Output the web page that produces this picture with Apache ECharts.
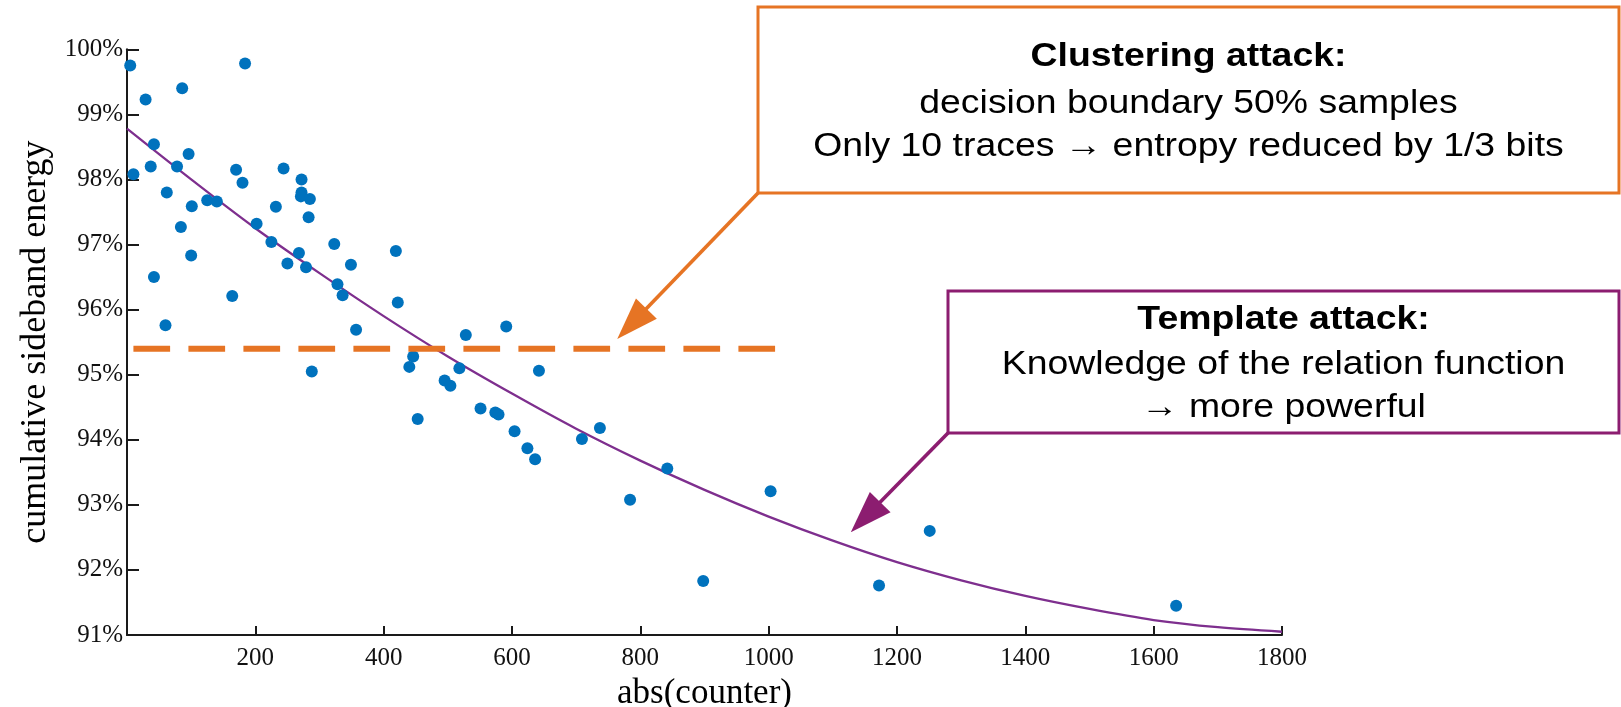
<!DOCTYPE html>
<html>
<head>
<meta charset="utf-8">
<script src="https://cdn.jsdelivr.net/npm/echarts@6/dist/echarts.min.js"></script>
<style>
html,body{margin:0;padding:0;background:#fff;}
#chart{width:1621px;height:707px;}
</style>
</head>
<body>
<div id="chart"></div>
<script>
// scatter samples: abs(counter) and cumulative sideband energy (%)
const sampleX = [5,10,29,42,37,42,60,62,78,86,84,96,101,100,125,140,164,170,180,184,
  202,225,232,244,250,268,272,272,271,285,283,279,323,328,336,349,357,419,422,288,
  446,440,453,528,591,518,642,495,504,551,574,579,604,624,636,709,737,842,784,1003,
  1251,898,1172,1635];
const sampleY = [99.75,98.08,99.23,98.54,98.20,96.50,95.76,97.80,98.20,99.40,97.27,98.39,97.59,96.83,97.68,97.66,96.21,98.15,97.95,99.78,
  97.32,97.04,97.58,98.17,96.71,96.87,98.00,97.80,97.74,97.70,97.42,96.65,97.01,96.39,96.22,96.69,95.69,96.90,96.11,95.05,
  95.28,95.12,94.32,95.61,95.74,95.10,95.06,94.91,94.83,94.48,94.42,94.39,94.13,93.87,93.70,94.01,94.18,93.56,93.08,93.21,
  92.60,91.83,91.76,91.45];
// fitted relation curve
const fitX = [0,100,200,300,400,500,600,700,800,900,1000,1100,1200,1300,1400,1500,1600,1700,1800];
const fitY = [98.78,98.00,97.25,96.56,95.90,95.28,94.71,94.17,93.68,93.23,92.82,92.45,92.12,91.84,91.60,91.40,91.23,91.12,91.05];
// decision boundary (dashed)
const boundaryX = [10,1010];
const boundaryY = [95.4,95.4];
// axis ticks
const xTicks = {min:0, max:1800, step:200};
const yTicks = {min:91, max:100, step:1};
// annotation texts
const clusterLines = ['Clustering attack:','decision boundary 50% samples','Only 10 traces \u2192 entropy reduced by 1/3 bits'];
const templateLines = ['Template attack:','Knowledge of the relation function','\u2192 more powerful'];
// annotation anchor points in data space (arrow tips)
const clusterTip = [764, 95.55];
const templateTip = [1128, 92.58];

const chart = echarts.init(document.getElementById('chart'), null, {renderer:'canvas'});
const serif = '"Liberation Serif","Times New Roman",serif';
const axisCol = '#1a1a1a';

const option = {
  animation:false,
  backgroundColor:'#ffffff',
  grid:{left:127, right:339, top:49.3, bottom:72, containLabel:false, outerBoundsMode:'none'},
  xAxis:{
    type:'value', min:xTicks.min, max:xTicks.max, interval:xTicks.step,
    name:'abs(counter)', nameLocation:'middle', nameGap:31,
    nameTextStyle:{fontFamily:serif, fontSize:35, color:'#000'},
    axisLine:{show:true, onZero:false, lineStyle:{color:axisCol, width:2}},
    axisTick:{show:true, inside:true, length:9, lineStyle:{color:axisCol, width:2}},
    axisLabel:{fontFamily:serif, fontSize:25, color:'#111', margin:11,
      formatter:v => v === 0 ? '' : String(v)},
    splitLine:{show:false}
  },
  yAxis:{
    type:'value', min:yTicks.min, max:yTicks.max, interval:yTicks.step,
    name:'cumulative sideband energy', nameLocation:'middle', nameGap:70,
    nameTextStyle:{fontFamily:serif, fontSize:36, color:'#000'},
    axisLine:{show:true, onZero:false, lineStyle:{color:axisCol, width:2}},
    axisTick:{show:true, inside:true, length:12, lineStyle:{color:axisCol, width:2}},
    axisLabel:{fontFamily:serif, fontSize:25, color:'#111', margin:4, padding:[4,0,0,0],
      formatter:v => v + '%'},
    splitLine:{show:false}
  },
  series:[
    {
      type:'line', name:'fit', data:fitX.map((x,i)=>[x,fitY[i]]),
      smooth:0.3, showSymbol:false, symbol:'none', z:2,
      lineStyle:{color:'#7E2F8E', width:2.3}
    },
    {
      type:'scatter', name:'samples', data:sampleX.map((x,i)=>[x,sampleY[i]]),
      symbol:'circle', symbolSize:12, z:3,
      itemStyle:{color:'#0072BD', opacity:1}
    },
    {
      type:'line', name:'boundary', data:boundaryX.map((x,i)=>[x,boundaryY[i]]),
      showSymbol:false, symbol:'none', z:4,
      lineStyle:{color:'#E67424', width:6, type:[36.7,18.3], cap:'butt'}
    }
  ]
};
chart.setOption(option);

function arrow(x1,y1,x2,y2,color){
  const dx=x2-x1, dy=y2-y1, L=Math.hypot(dx,dy), ux=dx/L, uy=dy/L;
  const hl=42, hw=14.5;
  const bx=x2-ux*hl, by=y2-uy*hl, px=-uy, py=ux;
  return [
    {type:'line', z:10, shape:{x1:x1,y1:y1,x2:bx+ux*3,y2:by+uy*3}, style:{stroke:color, lineWidth:3.6}},
    {type:'polygon', z:10, shape:{points:[[x2,y2],[bx+px*hw,by+py*hw],[bx-px*hw,by-py*hw]]}, style:{fill:color}}
  ];
}
function textLine(t,x,y,bold){
  return {type:'text', z:12, x:x, y:y, scaleX:1.1, scaleY:1,
    style:{text:t, fill:'#000', fontFamily:'"Liberation Sans",Arial,sans-serif',
      fontSize:34, fontWeight:bold?'bold':'normal', align:'center', verticalAlign:'middle'}};
}
const orange='#E67424', purple='#8C1D70';
const oTip = chart.convertToPixel({gridIndex:0}, clusterTip);
const pTip = chart.convertToPixel({gridIndex:0}, templateTip);
const oBox = {x:758, y:7, w:861, h:186};
const pBox = {x:948, y:291, w:671, h:142};
const elements = [];
elements.push(...arrow(oBox.x, oBox.y+oBox.h, oTip[0], oTip[1], orange));
elements.push(...arrow(pBox.x, pBox.y+pBox.h, pTip[0], pTip[1], purple));
elements.push({type:'rect', z:11, shape:{x:oBox.x,y:oBox.y,width:oBox.w,height:oBox.h}, style:{fill:'#fff', stroke:orange, lineWidth:3}});
elements.push({type:'rect', z:11, shape:{x:pBox.x,y:pBox.y,width:pBox.w,height:pBox.h}, style:{fill:'#fff', stroke:purple, lineWidth:3}});
const oc = oBox.x + oBox.w/2, pc = pBox.x + pBox.w/2;
[57, 104, 147].forEach((y,i)=>elements.push(textLine(clusterLines[i], oc, y, i===0)));
[320, 365, 408].forEach((y,i)=>elements.push(textLine(templateLines[i], pc, y, i===0)));
chart.setOption({graphic:{elements:elements}});
</script>
</body>
</html>
